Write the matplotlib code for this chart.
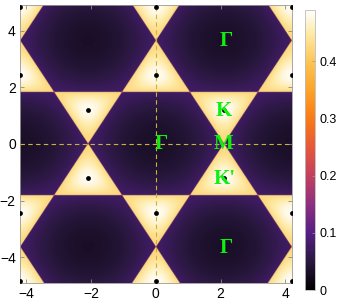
import numpy as np
import matplotlib
matplotlib.use('Agg')
import matplotlib.pyplot as plt
from matplotlib.colors import LinearSegmentedColormap

plt.rcParams['font.family'] = ['Liberation Sans', 'DejaVu Sans']

# plot window (reciprocal space, C-C distance = 1)
x_lim = [-4 * np.pi / 3, 4 * np.pi / 3]
y_lim = [-4.9, 4.9]

# real-space lattice vectors
a1 = np.array([1.5, np.sqrt(3) / 2])
a2 = np.array([1.5, -np.sqrt(3) / 2])

abs_f_nodes = [0.0, 0.4, 0.8, 0.999, 1.001, 1.5, 2.2, 3.0]
value_nodes = [0.488, 0.474, 0.445, 0.425, 0.075, 0.06, 0.045, 0.032]

# Dirac points shown as black dots
k_x = [-4.189, 0.0, 4.189, -4.189, 0.0, 4.189, -4.189, 0.0, 4.189, -4.189, 0.0, 4.189,
       -2.094, 2.094, -2.094, 2.094]
k_y = [4.837, 4.837, 4.837, 2.418, 2.418, 2.418, -2.418, -2.418, -2.418, -4.837, -4.837, -4.837,
       1.209, 1.209, -1.209, -1.209]

# high-symmetry labels
labels = ['Γ', 'K', 'M', "K'", 'Γ', 'Γ']
label_x = [0.17, 2.1, 2.1, 2.14, 2.19, 2.19]
label_y = [0.0, 1.15, 0.0, -1.22, 3.63, -3.65]

ticks = [-4, -2, 0, 2, 4]
cbar_ticks = [0, 0.1, 0.2, 0.3, 0.4]
vmax = 0.49

# sunset-like colour scale
cmap_vals = [0, 0.05, 0.1, 0.15, 0.2, 0.25, 0.3, 0.35, 0.4, 0.45, 0.49]
cmap_cols = ['#000000', '#2a1840', '#551f86', '#8e2f80', '#c2405e', '#e6583a',
             '#fa7a14', '#fca328', '#fdc453', '#feeaa6', '#ffffff']
cmap = LinearSegmentedColormap.from_list(
    'sunset', list(zip(np.array(cmap_vals) / vmax, cmap_cols)))

# |f(k)| of the graphene tight-binding model on a grid
kx = np.linspace(x_lim[0], x_lim[1], 700)
ky = np.linspace(y_lim[0], y_lim[1], 800)
KX, KY = np.meshgrid(kx, ky)
p1 = KX * a1[0] + KY * a1[1]
p2 = KX * a2[0] + KY * a2[1]
abs_f = np.sqrt(np.clip(3 + 2 * np.cos(p1) + 2 * np.cos(p2) + 2 * np.cos(p1 - p2), 0, None))
field = np.interp(abs_f, abs_f_nodes, value_nodes)

fig = plt.figure(figsize=(3.46, 3.08), dpi=100)
ax = fig.add_axes([0.0578, 0.0812, 0.7847, 0.9026])
im = ax.imshow(field, origin='lower', extent=[x_lim[0], x_lim[1], y_lim[0], y_lim[1]],
               aspect='auto', cmap=cmap, vmin=0, vmax=vmax, interpolation='bilinear')

ax.axhline(0, color='#c8b43c', lw=0.8, ls=(0, (4, 3)), zorder=3)
ax.axvline(0, color='#c8b43c', lw=0.8, ls=(0, (4, 3)), zorder=3)

ax.scatter(k_x, k_y, s=12, color='black', zorder=4, clip_on=True, linewidths=0)

for t, x, y in zip(labels, label_x, label_y):
    ax.text(x, y, t, color='#10f010', fontsize=15, fontweight='bold',
            family=['Liberation Serif', 'DejaVu Serif'], ha='center', va='center', zorder=5)

ax.set_xlim(x_lim)
ax.set_ylim(y_lim)
ax.set_xticks(ticks)
ax.set_yticks(ticks)
ax.set_xticklabels(['\u22124', '\u22122', '0', '2', '4'])
ax.set_yticklabels(['\u22124', '\u22122', '0', '2', '4'])
ax.tick_params(direction='in', length=3, width=0.6, color='#888888', labelsize=10,
               top=True, right=True, pad=3)
for s in ax.spines.values():
    s.set_color('#999999')
    s.set_linewidth(0.6)

cax = fig.add_axes([0.8815, 0.0584, 0.0303, 0.909])
cb = fig.colorbar(im, cax=cax, ticks=cbar_ticks)
cb.ax.set_yticklabels(['0', '0.1', '0.2', '0.3', '0.4'])
cb.ax.tick_params(direction='in', length=2, width=0.5, color='#999999', labelsize=9, pad=3)
cb.outline.set_edgecolor('#bbbbbb')
cb.outline.set_linewidth(0.6)

fig.savefig('out.png', dpi=100)
